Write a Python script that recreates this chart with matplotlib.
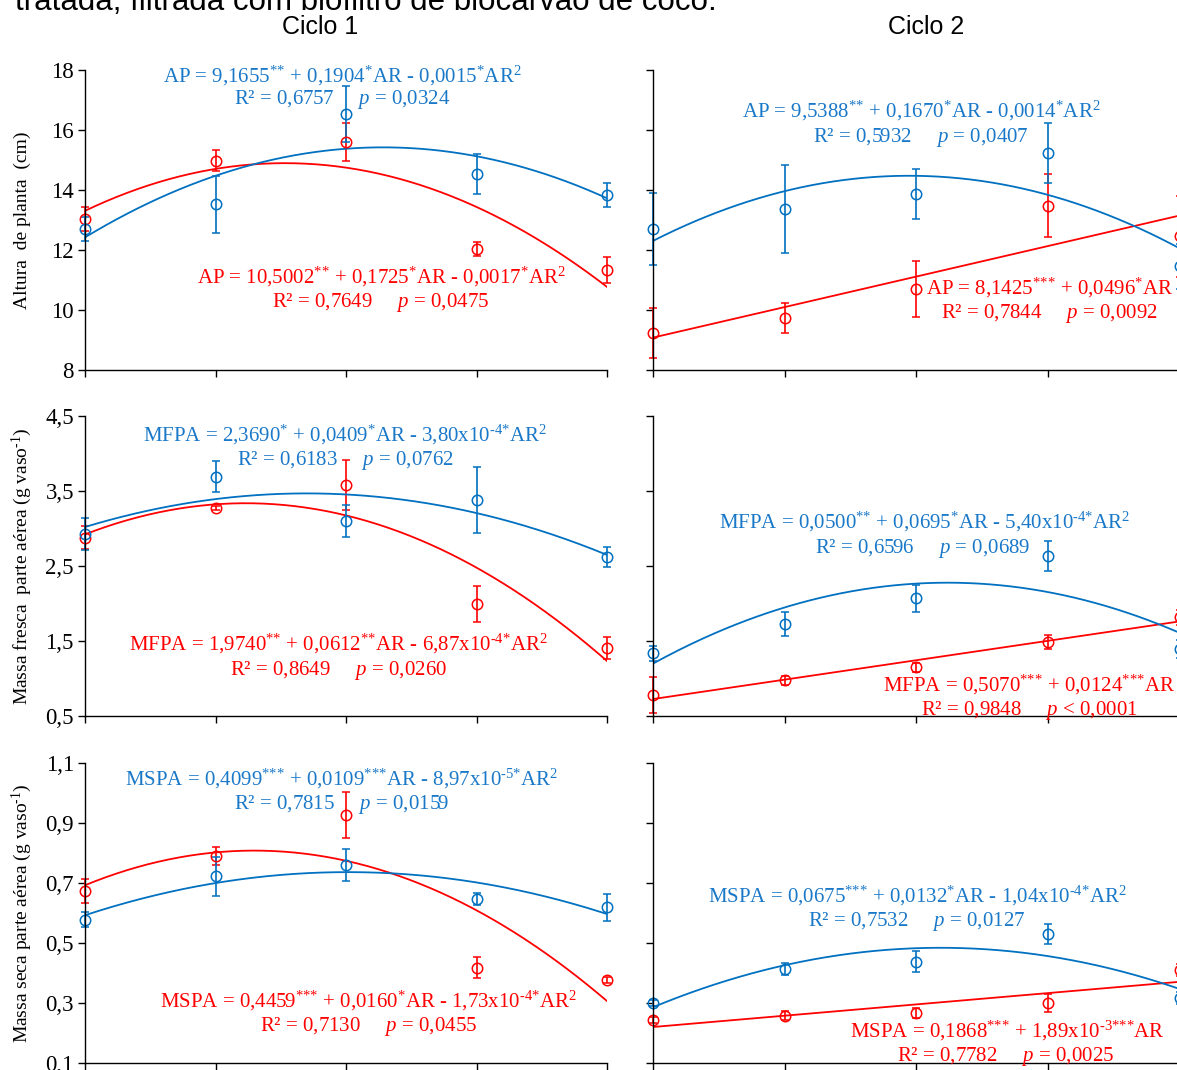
import numpy as np
import matplotlib
matplotlib.use('Agg')
import matplotlib.pyplot as plt

plt.rcParams['font.family'] = ['Liberation Serif', 'DejaVu Serif']
plt.rcParams['mathtext.fontset'] = 'custom'
plt.rcParams['mathtext.rm'] = 'Liberation Serif'
plt.rcParams['mathtext.it'] = 'Liberation Serif:italic'
plt.rcParams['mathtext.bf'] = 'Liberation Serif:bold'

# ---------------- data ----------------
AR = [20, 40, 60, 80, 100]

# Altura de planta (cm)
ap_c1_blue = [12.70, 13.53, 16.53, 14.53, 13.83]
ap_c1_blue_err = [0.40, 0.95, 0.93, 0.67, 0.40]
ap_c1_red = [13.03, 14.97, 15.60, 12.03, 11.33]
ap_c1_red_err = [0.40, 0.35, 0.62, 0.23, 0.42]
ap_c2_blue = [12.70, 13.37, 13.87, 15.23, 11.45]
ap_c2_blue_err = [1.20, 1.47, 0.83, 1.00, 0.75]
ap_c2_red = [9.23, 9.73, 10.70, 13.47, 12.45]
ap_c2_red_err = [0.83, 0.50, 0.92, 1.05, 1.35]

# Massa fresca parte aerea
mf_c1_blue = [2.93, 3.69, 3.10, 3.38, 2.62]
mf_c1_blue_err = [0.21, 0.21, 0.21, 0.44, 0.13]
mf_c1_red = [2.88, 3.27, 3.58, 1.99, 1.41]
mf_c1_red_err = [0.15, 0.03, 0.33, 0.24, 0.15]
mf_c2_blue = [1.34, 1.73, 2.07, 2.63, 1.40]
mf_c2_blue_err = [0.10, 0.16, 0.18, 0.20, 0.12]
mf_c2_red = [0.78, 0.98, 1.15, 1.49, 1.82]
mf_c2_red_err = [0.24, 0.06, 0.06, 0.09, 0.10]

# Massa seca parte aerea
ms_c1_blue = [0.577, 0.723, 0.760, 0.647, 0.620]
ms_c1_blue_err = [0.025, 0.065, 0.052, 0.020, 0.045]
ms_c1_red = [0.673, 0.790, 0.927, 0.417, 0.377]
ms_c1_red_err = [0.040, 0.030, 0.077, 0.035, 0.010]
ms_c2_blue = [0.300, 0.413, 0.437, 0.530, 0.317]
ms_c2_blue_err = [0.010, 0.020, 0.035, 0.033, 0.020]
ms_c2_red = [0.243, 0.257, 0.267, 0.300, 0.410]
ms_c2_red_err = [0.010, 0.015, 0.017, 0.030, 0.020]

row_ylims = [(8, 18), (0.5, 4.5), (0.1, 1.1)]
row_ticks = [[8, 10, 12, 14, 16, 18],
             [0.5, 1.5, 2.5, 3.5, 4.5],
             [0.1, 0.3, 0.5, 0.7, 0.9, 1.1]]
row_ticklabels = [['8', '10', '12', '14', '16', '18'],
                  ['0,5', '1,5', '2,5', '3,5', '4,5'],
                  ['0,1', '0,3', '0,5', '0,7', '0,9', '1,1']]
row_ylabels = ['Altura  de planta  (cm)',
               'Massa fresca  parte aérea (g vaso$^{\u2010 1}$)',
               'Massa seca parte aérea (g vaso$^{\u2010 1}$)']
col_titles = ['Ciclo 1', 'Ciclo 2']

BLUE = '#0070C0'
RED = '#FF0000'
TBLUE = '#1A78C8'

W, H = 1177, 1070
fig = plt.figure(figsize=(W / 100, H / 100), dpi=100)

def px_axes(x0, y0, x1, y1):
    return fig.add_axes([x0 / W, 1 - y1 / H, (x1 - x0) / W, (y1 - y0) / H])

col_x = [(85, 607), (653, 1180)]
row_y = [(70, 370), (416, 716), (763, 1063)]

panels = [
    [(ap_c1_blue, ap_c1_blue_err, 2, ap_c1_red, ap_c1_red_err, 2),
     (ap_c2_blue, ap_c2_blue_err, 2, ap_c2_red, ap_c2_red_err, 1)],
    [(mf_c1_blue, mf_c1_blue_err, 2, mf_c1_red, mf_c1_red_err, 2),
     (mf_c2_blue, mf_c2_blue_err, 2, mf_c2_red, mf_c2_red_err, 1)],
    [(ms_c1_blue, ms_c1_blue_err, 2, ms_c1_red, ms_c1_red_err, 2),
     (ms_c2_blue, ms_c2_blue_err, 2, ms_c2_red, ms_c2_red_err, 1)],
]

xs = np.linspace(AR[0], AR[-1], 300)

for r in range(3):
    for c in range(2):
        x0, x1 = col_x[c]
        y0, y1 = row_y[r]
        ax = px_axes(x0, y0, x1, y1)
        yb, eb, db, yr, er, dr = panels[r][c]
        for y, e, d, col in [(yr, er, dr, RED), (yb, eb, db, BLUE)]:
            coef = np.polyfit(AR, y, d)
            ax.plot(xs, np.polyval(coef, xs), color=col, lw=1.3)
            cont = ax.errorbar(AR, y, yerr=e, fmt='o', mfc='none', mec=col,
                               ms=7.5, mew=1.1, ecolor=col, elinewidth=1.2,
                               capsize=3.2, capthick=1.2, clip_on=False)
            for art in cont.get_children():
                art.set_clip_on(False)
        ax.set_xlim(AR[0], AR[-1])
        ax.set_ylim(*row_ylims[r])
        ax.set_xticks(AR)
        ax.set_xticklabels([])
        ax.set_yticks(row_ticks[r])
        if c == 0:
            ax.set_yticklabels(row_ticklabels[r], fontsize=16.5)
        else:
            ax.set_yticklabels([])
        for s in ['top', 'right']:
            ax.spines[s].set_visible(False)
        for s in ['left', 'bottom']:
            ax.spines[s].set_linewidth(1.0)
        ax.tick_params(direction='out', length=5, width=1.0, pad=3)
        ax.patch.set_alpha(0)
        if c == 0:
            fig.text(22 / W, 1 - ((y0 + y1) / 2) / H, row_ylabels[r],
                     rotation=90, ha='center', va='center', fontsize=14)

# column titles and cut-off caption
for cx, t in zip([320, 926], col_titles):
    fig.text(cx / W, 1 - 34 / H, t, ha='center', va='baseline',
             fontsize=18, family='Liberation Sans')
fig.text(15 / W, 1 - 10 / H, 'tratada, filtrada com biofiltro de biocarvão de coco.',
         ha='left', va='baseline', fontsize=22.5, family='Liberation Sans')

# regression equations (x center px, y center px, text, colour)
S = '{*}'
M = '\u2010'
eqs = [
    (342, 75, 'AP = 9,1655$^{' + S + S + '}$ + 0,1904$^{' + S + '}$AR - 0,0015$^{' + S + '}$AR$^{2}$', TBLUE),
    (342, 97, 'R² = 0,6757     $p$ = 0,0324', TBLUE),
    (381, 276, 'AP = 10,5002$^{' + S + S + '}$ + 0,1725$^{' + S + '}$AR - 0,0017$^{' + S + '}$AR$^{2}$', RED),
    (381, 300, 'R² = 0,7649     $p$ = 0,0475', RED),
    (921, 110, 'AP = 9,5388$^{' + S + S + '}$ + 0,1670$^{' + S + '}$AR - 0,0014$^{' + S + '}$AR$^{2}$', TBLUE),
    (921, 135, 'R² = 0,5932     $p$ = 0,0407', TBLUE),
    (1050, 287, 'AP = 8,1425$^{' + S + S + S + '}$ + 0,0496$^{' + S + '}$AR', RED),
    (1049, 311, 'R² = 0,7844     $p$ = 0,0092', RED),
    (345, 434, 'MFPA = 2,3690$^{' + S + '}$ + 0,0409$^{' + S + '}$AR - 3,80x10$^{' + M + '4' + S + '}$AR$^{2}$', TBLUE),
    (345, 458, 'R² = 0,6183     $p$ = 0,0762', TBLUE),
    (338, 643, 'MFPA = 1,9740$^{' + S + S + '}$ + 0,0612$^{' + S + S + '}$AR - 6,87x10$^{' + M + '4' + S + '}$AR$^{2}$', RED),
    (339, 668, 'R² = 0,8649     $p$ = 0,0260', RED),
    (925, 521, 'MFPA = 0,0500$^{' + S + S + '}$ + 0,0695$^{' + S + '}$AR - 5,40x10$^{' + M + '4' + S + '}$AR$^{2}$', TBLUE),
    (923, 546, 'R² = 0,6596     $p$ = 0,0689', TBLUE),
    (1029, 684, 'MFPA = 0,5070$^{' + S + S + S + '}$ + 0,0124$^{' + S + S + S + '}$AR', RED),
    (1029, 708, 'R² = 0,9848     $p$ < 0,0001', RED),
    (342, 778, 'MSPA = 0,4099$^{' + S + S + S + '}$ + 0,0109$^{' + S + S + S + '}$AR - 8,97x10$^{' + M + '5' + S + '}$AR$^{2}$', TBLUE),
    (342, 802, 'R² = 0,7815     $p$ = 0,0159', TBLUE),
    (369, 1000, 'MSPA = 0,4459$^{' + S + S + S + '}$ + 0,0160$^{' + S + '}$AR - 1,73x10$^{' + M + '4' + S + '}$AR$^{2}$', RED),
    (369, 1024, 'R² = 0,7130     $p$ = 0,0455', RED),
    (917, 895, 'MSPA = 0,0675$^{' + S + S + S + '}$ + 0,0132$^{' + S + '}$AR - 1,04x10$^{' + M + '4' + S + '}$AR$^{2}$', TBLUE),
    (917, 919, 'R² = 0,7532     $p$ = 0,0127', TBLUE),
    (1007, 1030, 'MSPA = 0,1868$^{' + S + S + S + '}$ + 1,89x10$^{' + M + '3' + S + S + S + '}$AR', RED),
    (1006, 1054, 'R² = 0,7782     $p$ = 0,0025', RED),
]
for x, y, t, col in eqs:
    fig.text(x / W, 1 - (y + 7) / H, t, ha='center', va='baseline',
             fontsize=15, color=col)

fig.savefig('out.png', dpi=100)
